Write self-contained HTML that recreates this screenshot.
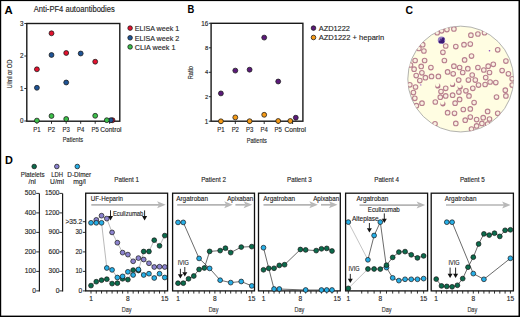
<!DOCTYPE html>
<html><head><meta charset="utf-8"><style>
html,body{margin:0;padding:0;background:#fff;}
svg{display:block;font-family:"Liberation Sans", sans-serif;}
</style></head><body>
<svg width="520" height="317" viewBox="0 0 520 317">
<rect width="520" height="317" fill="#fff"/>
<rect x="0" y="0" width="520" height="1.1" fill="#000"/><rect x="0" y="0" width="1.2" height="317" fill="#000"/><rect x="518.5" y="0" width="1.5" height="317" fill="#000"/><rect x="0" y="315.6" width="520" height="1.4" fill="#000"/>
<text x="4.60" y="13.60" font-size="11.6" text-anchor="start" fill="#000" stroke="#000" stroke-width="0.0" font-weight="bold" textLength="8.20" lengthAdjust="spacingAndGlyphs">A</text>
<text x="33.80" y="12.10" font-size="8.3" text-anchor="start" fill="#222" stroke="#222" stroke-width="0.14" textLength="81.00" lengthAdjust="spacingAndGlyphs">Anti-PF4 autoantibodies</text>
<rect x="26.8" y="23.5" width="93.0" height="97.7" fill="none" stroke="#1a1a1a" stroke-width="1.4"/>
<line x1="24.30" y1="23.50" x2="26.80" y2="23.50" stroke="#1a1a1a" stroke-width="0.9"/>
<text x="23.60" y="25.70" font-size="6.3" text-anchor="end" fill="#262626" stroke="#262626" stroke-width="0.14">3</text>
<line x1="24.30" y1="56.00" x2="26.80" y2="56.00" stroke="#1a1a1a" stroke-width="0.9"/>
<text x="23.60" y="58.20" font-size="6.3" text-anchor="end" fill="#262626" stroke="#262626" stroke-width="0.14">2</text>
<line x1="24.30" y1="88.50" x2="26.80" y2="88.50" stroke="#1a1a1a" stroke-width="0.9"/>
<text x="23.60" y="90.70" font-size="6.3" text-anchor="end" fill="#262626" stroke="#262626" stroke-width="0.14">1</text>
<line x1="24.30" y1="121.00" x2="26.80" y2="121.00" stroke="#1a1a1a" stroke-width="0.9"/>
<text x="23.60" y="123.20" font-size="6.3" text-anchor="end" fill="#262626" stroke="#262626" stroke-width="0.14">0</text>
<line x1="36.90" y1="121.00" x2="36.90" y2="123.80" stroke="#1a1a1a" stroke-width="0.9"/>
<text x="36.90" y="131.70" font-size="6.8" text-anchor="middle" fill="#262626" stroke="#262626" stroke-width="0.14" textLength="7.30" lengthAdjust="spacingAndGlyphs">P1</text>
<line x1="51.50" y1="121.00" x2="51.50" y2="123.80" stroke="#1a1a1a" stroke-width="0.9"/>
<text x="51.50" y="131.70" font-size="6.8" text-anchor="middle" fill="#262626" stroke="#262626" stroke-width="0.14" textLength="7.30" lengthAdjust="spacingAndGlyphs">P2</text>
<line x1="66.20" y1="121.00" x2="66.20" y2="123.80" stroke="#1a1a1a" stroke-width="0.9"/>
<text x="66.20" y="131.70" font-size="6.8" text-anchor="middle" fill="#262626" stroke="#262626" stroke-width="0.14" textLength="7.30" lengthAdjust="spacingAndGlyphs">P3</text>
<line x1="80.70" y1="121.00" x2="80.70" y2="123.80" stroke="#1a1a1a" stroke-width="0.9"/>
<text x="80.70" y="131.70" font-size="6.8" text-anchor="middle" fill="#262626" stroke="#262626" stroke-width="0.14" textLength="7.30" lengthAdjust="spacingAndGlyphs">P4</text>
<line x1="95.20" y1="121.00" x2="95.20" y2="123.80" stroke="#1a1a1a" stroke-width="0.9"/>
<text x="95.20" y="131.70" font-size="6.8" text-anchor="middle" fill="#262626" stroke="#262626" stroke-width="0.14" textLength="7.30" lengthAdjust="spacingAndGlyphs">P5</text>
<line x1="109.60" y1="121.00" x2="109.60" y2="123.80" stroke="#1a1a1a" stroke-width="0.9"/>
<text x="110.90" y="131.70" font-size="6.8" text-anchor="middle" fill="#262626" stroke="#262626" stroke-width="0.14" textLength="21.40" lengthAdjust="spacingAndGlyphs">Control</text>
<text x="72.90" y="141.90" font-size="7.0" text-anchor="middle" fill="#262626" stroke="#262626" stroke-width="0.14" textLength="20.20" lengthAdjust="spacingAndGlyphs">Patients</text>
<text x="12.00" y="74.00" font-size="7.0" text-anchor="middle" fill="#262626" stroke="#262626" stroke-width="0.14" textLength="29.00" lengthAdjust="spacingAndGlyphs" transform="rotate(-90 12.00 74.00)">U/ml or OD</text>
<circle cx="36.90" cy="69.30" r="2.45" fill="#e3122f" stroke="#151515" stroke-width="0.75"/>
<circle cx="51.50" cy="33.30" r="2.45" fill="#e3122f" stroke="#151515" stroke-width="0.75"/>
<circle cx="66.20" cy="53.00" r="2.45" fill="#e3122f" stroke="#151515" stroke-width="0.75"/>
<circle cx="95.20" cy="61.70" r="2.45" fill="#e3122f" stroke="#151515" stroke-width="0.75"/>
<circle cx="112.50" cy="120.20" r="2.45" fill="#e3122f" stroke="#151515" stroke-width="0.75"/>
<circle cx="36.90" cy="87.80" r="2.45" fill="#1f5496" stroke="#151515" stroke-width="0.75"/>
<circle cx="51.50" cy="55.00" r="2.45" fill="#1f5496" stroke="#151515" stroke-width="0.75"/>
<circle cx="66.20" cy="82.50" r="2.45" fill="#1f5496" stroke="#151515" stroke-width="0.75"/>
<circle cx="80.70" cy="53.50" r="2.45" fill="#1f5496" stroke="#151515" stroke-width="0.75"/>
<circle cx="110.90" cy="120.20" r="2.45" fill="#1f5496" stroke="#151515" stroke-width="0.75"/>
<circle cx="36.90" cy="120.60" r="2.45" fill="#3cbf4a" stroke="#151515" stroke-width="0.75"/>
<circle cx="51.50" cy="116.00" r="2.45" fill="#3cbf4a" stroke="#151515" stroke-width="0.75"/>
<circle cx="66.20" cy="119.00" r="2.45" fill="#3cbf4a" stroke="#151515" stroke-width="0.75"/>
<circle cx="95.20" cy="115.80" r="2.45" fill="#3cbf4a" stroke="#151515" stroke-width="0.75"/>
<circle cx="106.80" cy="120.20" r="2.45" fill="#3cbf4a" stroke="#151515" stroke-width="0.75"/>
<circle cx="130.10" cy="28.10" r="2.3" fill="#e3122f" stroke="#151515" stroke-width="0.75"/>
<text x="134.80" y="30.90" font-size="8.1" text-anchor="start" fill="#262626" stroke="#262626" stroke-width="0.14" textLength="44.40" lengthAdjust="spacingAndGlyphs">ELISA week 1</text>
<circle cx="130.10" cy="37.80" r="2.3" fill="#1f5496" stroke="#151515" stroke-width="0.75"/>
<text x="134.80" y="40.60" font-size="8.1" text-anchor="start" fill="#262626" stroke="#262626" stroke-width="0.14" textLength="44.40" lengthAdjust="spacingAndGlyphs">ELISA week 2</text>
<circle cx="130.10" cy="46.90" r="2.3" fill="#3cbf4a" stroke="#151515" stroke-width="0.75"/>
<text x="134.80" y="49.70" font-size="8.1" text-anchor="start" fill="#262626" stroke="#262626" stroke-width="0.14" textLength="40.70" lengthAdjust="spacingAndGlyphs">CLIA week 1</text>
<text x="187.60" y="12.90" font-size="10.5" text-anchor="start" fill="#000" stroke="#000" stroke-width="0.0" font-weight="bold" textLength="6.80" lengthAdjust="spacingAndGlyphs">B</text>
<rect x="211.1" y="23.3" width="91.8" height="97.9" fill="none" stroke="#1a1a1a" stroke-width="1.4"/>
<line x1="208.80" y1="23.30" x2="211.10" y2="23.30" stroke="#1a1a1a" stroke-width="0.9"/>
<line x1="208.80" y1="47.80" x2="211.10" y2="47.80" stroke="#1a1a1a" stroke-width="0.9"/>
<line x1="208.80" y1="72.30" x2="211.10" y2="72.30" stroke="#1a1a1a" stroke-width="0.9"/>
<line x1="208.80" y1="96.70" x2="211.10" y2="96.70" stroke="#1a1a1a" stroke-width="0.9"/>
<line x1="208.80" y1="121.20" x2="211.10" y2="121.20" stroke="#1a1a1a" stroke-width="0.9"/>
<text x="208.30" y="25.60" font-size="6.3" text-anchor="end" fill="#262626" stroke="#262626" stroke-width="0.14">16</text>
<text x="208.30" y="123.50" font-size="6.3" text-anchor="end" fill="#262626" stroke="#262626" stroke-width="0.14">1</text>
<text x="208.20" y="49.80" font-size="5.8" text-anchor="end" fill="#262626" stroke="#262626" stroke-width="0.14">8</text>
<text x="208.20" y="74.30" font-size="5.8" text-anchor="end" fill="#262626" stroke="#262626" stroke-width="0.14">4</text>
<text x="208.20" y="98.70" font-size="5.8" text-anchor="end" fill="#262626" stroke="#262626" stroke-width="0.14">2</text>
<line x1="220.90" y1="121.20" x2="220.90" y2="124.00" stroke="#1a1a1a" stroke-width="0.9"/>
<text x="220.90" y="131.80" font-size="6.8" text-anchor="middle" fill="#262626" stroke="#262626" stroke-width="0.14" textLength="7.30" lengthAdjust="spacingAndGlyphs">P1</text>
<line x1="235.30" y1="121.20" x2="235.30" y2="124.00" stroke="#1a1a1a" stroke-width="0.9"/>
<text x="235.30" y="131.80" font-size="6.8" text-anchor="middle" fill="#262626" stroke="#262626" stroke-width="0.14" textLength="7.30" lengthAdjust="spacingAndGlyphs">P2</text>
<line x1="249.60" y1="121.20" x2="249.60" y2="124.00" stroke="#1a1a1a" stroke-width="0.9"/>
<text x="249.60" y="131.80" font-size="6.8" text-anchor="middle" fill="#262626" stroke="#262626" stroke-width="0.14" textLength="7.30" lengthAdjust="spacingAndGlyphs">P3</text>
<line x1="264.20" y1="121.20" x2="264.20" y2="124.00" stroke="#1a1a1a" stroke-width="0.9"/>
<text x="264.20" y="131.80" font-size="6.8" text-anchor="middle" fill="#262626" stroke="#262626" stroke-width="0.14" textLength="7.30" lengthAdjust="spacingAndGlyphs">P4</text>
<line x1="278.20" y1="121.20" x2="278.20" y2="124.00" stroke="#1a1a1a" stroke-width="0.9"/>
<text x="278.20" y="131.80" font-size="6.8" text-anchor="middle" fill="#262626" stroke="#262626" stroke-width="0.14" textLength="7.30" lengthAdjust="spacingAndGlyphs">P5</text>
<line x1="292.60" y1="121.20" x2="292.60" y2="124.00" stroke="#1a1a1a" stroke-width="0.9"/>
<text x="295.20" y="131.80" font-size="6.8" text-anchor="middle" fill="#262626" stroke="#262626" stroke-width="0.14" textLength="21.60" lengthAdjust="spacingAndGlyphs">Control</text>
<text x="256.80" y="143.00" font-size="7.0" text-anchor="middle" fill="#262626" stroke="#262626" stroke-width="0.14" textLength="20.20" lengthAdjust="spacingAndGlyphs">Patients</text>
<text x="192.80" y="72.70" font-size="7.0" text-anchor="middle" fill="#262626" stroke="#262626" stroke-width="0.14" textLength="13.30" lengthAdjust="spacingAndGlyphs" transform="rotate(-90 192.80 72.70)">Ratio</text>
<circle cx="220.90" cy="121.30" r="2.45" fill="#f59a16" stroke="#151515" stroke-width="0.75"/>
<circle cx="235.30" cy="117.40" r="2.45" fill="#f59a16" stroke="#151515" stroke-width="0.75"/>
<circle cx="249.60" cy="121.20" r="2.45" fill="#f59a16" stroke="#151515" stroke-width="0.75"/>
<circle cx="264.20" cy="114.80" r="2.45" fill="#f59a16" stroke="#151515" stroke-width="0.75"/>
<circle cx="278.20" cy="121.00" r="2.45" fill="#f59a16" stroke="#151515" stroke-width="0.75"/>
<circle cx="290.30" cy="121.00" r="2.45" fill="#f59a16" stroke="#151515" stroke-width="0.75"/>
<circle cx="220.90" cy="93.40" r="2.45" fill="#5b1a7a" stroke="#151515" stroke-width="0.75"/>
<circle cx="235.30" cy="70.60" r="2.45" fill="#5b1a7a" stroke="#151515" stroke-width="0.75"/>
<circle cx="249.60" cy="69.70" r="2.45" fill="#5b1a7a" stroke="#151515" stroke-width="0.75"/>
<circle cx="264.20" cy="37.60" r="2.45" fill="#5b1a7a" stroke="#151515" stroke-width="0.75"/>
<circle cx="278.20" cy="81.50" r="2.45" fill="#5b1a7a" stroke="#151515" stroke-width="0.75"/>
<circle cx="295.80" cy="117.70" r="2.45" fill="#5b1a7a" stroke="#151515" stroke-width="0.75"/>
<circle cx="313.50" cy="28.10" r="2.3" fill="#5b1a7a" stroke="#151515" stroke-width="0.75"/>
<text x="318.70" y="30.90" font-size="8.1" text-anchor="start" fill="#262626" stroke="#262626" stroke-width="0.14" textLength="31.30" lengthAdjust="spacingAndGlyphs">AZD1222</text>
<circle cx="313.50" cy="37.50" r="2.3" fill="#f59a16" stroke="#151515" stroke-width="0.75"/>
<text x="318.70" y="40.30" font-size="8.1" text-anchor="start" fill="#262626" stroke="#262626" stroke-width="0.14" textLength="65.50" lengthAdjust="spacingAndGlyphs">AZD1222 + heparin</text>
<text x="405.60" y="14.00" font-size="11" text-anchor="start" fill="#000" stroke="#000" stroke-width="0.0" font-weight="bold" textLength="7.50" lengthAdjust="spacingAndGlyphs">C</text>
<defs><clipPath id="cc"><circle cx="460.70" cy="79.05" r="52.90"/></clipPath>
<filter id="bl" x="-10%" y="-10%" width="120%" height="120%"><feGaussianBlur stdDeviation="0.3"/></filter></defs>
<circle cx="460.70" cy="79.05" r="52.90" fill="#fffde2" stroke="#a0a0a0" stroke-width="0.8"/>
<g clip-path="url(#cc)"><g filter="url(#bl)" fill="#faf0e0" stroke="#b8808e" stroke-width="1.1">
<circle cx="437.2" cy="32.7" r="2.3"/>
<circle cx="441.6" cy="30.8" r="2.3"/>
<circle cx="422.7" cy="44.7" r="2.3"/>
<circle cx="418.9" cy="48.5" r="2.3"/>
<circle cx="423.9" cy="51.0" r="2.3"/>
<circle cx="442.9" cy="52.3" r="2.3"/>
<circle cx="415.1" cy="60.5" r="2.3"/>
<circle cx="424.6" cy="60.5" r="2.3"/>
<circle cx="446.9" cy="29.6" r="2.3"/>
<circle cx="453.9" cy="28.9" r="2.3"/>
<circle cx="470.9" cy="35.2" r="2.3"/>
<circle cx="477.9" cy="34.0" r="2.3"/>
<circle cx="445.7" cy="46.0" r="2.3"/>
<circle cx="455.8" cy="46.6" r="2.3"/>
<circle cx="464.0" cy="44.7" r="2.3"/>
<circle cx="470.3" cy="44.1" r="2.3"/>
<circle cx="471.5" cy="56.1" r="2.3"/>
<circle cx="444.4" cy="60.5" r="2.3"/>
<circle cx="464.6" cy="59.9" r="2.3"/>
<circle cx="484.5" cy="32.7" r="2.3"/>
<circle cx="497.7" cy="49.8" r="2.3"/>
<circle cx="505.9" cy="61.1" r="2.3"/>
<circle cx="410.5" cy="65.0" r="2.3"/>
<circle cx="421.2" cy="66.4" r="2.3"/>
<circle cx="414.1" cy="69.2" r="2.3"/>
<circle cx="421.9" cy="72.8" r="2.3"/>
<circle cx="416.2" cy="75.6" r="2.3"/>
<circle cx="425.4" cy="77.7" r="2.3"/>
<circle cx="419.8" cy="80.6" r="2.3"/>
<circle cx="409.8" cy="84.8" r="2.3"/>
<circle cx="415.5" cy="87.0" r="2.3"/>
<circle cx="413.4" cy="92.6" r="2.3"/>
<circle cx="414.8" cy="98.3" r="2.3"/>
<circle cx="430.9" cy="67.6" r="2.3"/>
<circle cx="431.5" cy="76.4" r="2.3"/>
<circle cx="438.4" cy="76.4" r="2.3"/>
<circle cx="441.0" cy="91.5" r="2.3"/>
<circle cx="440.3" cy="97.2" r="2.3"/>
<circle cx="453.9" cy="66.2" r="2.3"/>
<circle cx="459.6" cy="67.5" r="2.3"/>
<circle cx="467.8" cy="68.7" r="2.3"/>
<circle cx="477.9" cy="67.5" r="2.3"/>
<circle cx="447.6" cy="71.9" r="2.3"/>
<circle cx="453.2" cy="73.8" r="2.3"/>
<circle cx="462.7" cy="72.5" r="2.3"/>
<circle cx="472.2" cy="75.0" r="2.3"/>
<circle cx="458.7" cy="80.1" r="2.3"/>
<circle cx="468.4" cy="80.1" r="2.3"/>
<circle cx="475.3" cy="80.1" r="2.3"/>
<circle cx="478.5" cy="85.1" r="2.3"/>
<circle cx="445.7" cy="88.3" r="2.3"/>
<circle cx="465.9" cy="90.8" r="2.3"/>
<circle cx="472.8" cy="88.3" r="2.3"/>
<circle cx="458.9" cy="92.1" r="2.3"/>
<circle cx="445.7" cy="95.9" r="2.3"/>
<circle cx="452.6" cy="95.2" r="2.3"/>
<circle cx="469.0" cy="95.9" r="2.3"/>
<circle cx="493.3" cy="64.3" r="2.3"/>
<circle cx="488.2" cy="66.2" r="2.3"/>
<circle cx="483.8" cy="70.0" r="2.3"/>
<circle cx="489.5" cy="72.5" r="2.3"/>
<circle cx="502.1" cy="70.6" r="2.3"/>
<circle cx="508.4" cy="73.8" r="2.3"/>
<circle cx="485.7" cy="77.6" r="2.3"/>
<circle cx="490.1" cy="82.0" r="2.3"/>
<circle cx="495.8" cy="82.6" r="2.3"/>
<circle cx="485.1" cy="84.5" r="2.3"/>
<circle cx="512.2" cy="78.8" r="2.3"/>
<circle cx="512.2" cy="85.1" r="2.3"/>
<circle cx="505.3" cy="90.2" r="2.3"/>
<circle cx="505.9" cy="95.9" r="2.3"/>
<circle cx="496.5" cy="97.1" r="2.3"/>
<circle cx="416.4" cy="105.7" r="2.3"/>
<circle cx="422.0" cy="103.2" r="2.3"/>
<circle cx="435.3" cy="102.0" r="2.3"/>
<circle cx="435.0" cy="123.8" r="2.3"/>
<circle cx="459.6" cy="99.4" r="2.3"/>
<circle cx="455.1" cy="103.2" r="2.3"/>
<circle cx="474.1" cy="102.6" r="2.3"/>
<circle cx="463.3" cy="109.5" r="2.3"/>
<circle cx="470.3" cy="108.9" r="2.3"/>
<circle cx="447.6" cy="112.7" r="2.3"/>
<circle cx="454.5" cy="113.3" r="2.3"/>
<circle cx="465.2" cy="120.2" r="2.3"/>
<circle cx="470.3" cy="117.1" r="2.3"/>
<circle cx="476.6" cy="119.6" r="2.3"/>
<circle cx="455.8" cy="123.4" r="2.3"/>
<circle cx="476.6" cy="125.9" r="2.3"/>
<circle cx="471.5" cy="129.1" r="2.3"/>
<circle cx="487.6" cy="111.4" r="2.3"/>
<circle cx="497.7" cy="113.3" r="2.3"/>
<circle cx="483.2" cy="117.7" r="2.3"/>
<circle cx="489.5" cy="119.0" r="2.3"/>
<circle cx="481.9" cy="123.4" r="2.3"/>
<circle cx="487.6" cy="124.0" r="2.3"/>
</g><g filter="url(#bl)">
<circle cx="437.8" cy="85.9" r="2.6" fill="#b47a8b"/><circle cx="437.3" cy="84.8" r="2.1" fill="#fffde2"/>
<circle cx="452.6" cy="84.5" r="2.6" fill="#b47a8b"/><circle cx="452.1" cy="83.4" r="2.1" fill="#fffde2"/>
<circle cx="460.2" cy="87.0" r="2.6" fill="#b47a8b"/><circle cx="459.7" cy="85.9" r="2.1" fill="#fffde2"/>
<circle cx="442.9" cy="103.8" r="2.6" fill="#b47a8b"/><circle cx="442.4" cy="102.7" r="2.1" fill="#fffde2"/>
</g></g>
<g filter="url(#bl)"><circle cx="441.5" cy="40.2" r="3.7" fill="#9a82c4"/><circle cx="442.5" cy="41.5" r="1.9" fill="#3a1a74"/><circle cx="440.2" cy="41.8" r="1.5" fill="#3a1a74"/><circle cx="443.2" cy="39.0" r="1.4" fill="#3a1a74"/><circle cx="441.0" cy="39.5" r="1.0" fill="#4a2a84"/></g>
<circle cx="489.5" cy="50.8" r="0.8" fill="#8a4ac0"/><circle cx="420.8" cy="84.9" r="0.7" fill="#9a5ac8"/>
<text x="4.90" y="163.80" font-size="10.8" text-anchor="start" fill="#000" stroke="#000" stroke-width="0.0" font-weight="bold" textLength="7.90" lengthAdjust="spacingAndGlyphs">D</text>
<circle cx="34.20" cy="166.50" r="2.3" fill="#0b6b4c" stroke="#151515" stroke-width="0.75"/>
<circle cx="56.80" cy="166.50" r="2.3" fill="#8b83cf" stroke="#151515" stroke-width="0.75"/>
<circle cx="77.30" cy="166.50" r="2.3" fill="#27aee6" stroke="#151515" stroke-width="0.75"/>
<text x="32.65" y="176.60" font-size="7.0" text-anchor="middle" fill="#262626" stroke="#262626" stroke-width="0.14" textLength="23.70" lengthAdjust="spacingAndGlyphs">Platelets</text>
<text x="32.15" y="183.80" font-size="7.0" text-anchor="middle" fill="#262626" stroke="#262626" stroke-width="0.14" textLength="7.30" lengthAdjust="spacingAndGlyphs">/nl</text>
<text x="57.10" y="176.60" font-size="7.0" text-anchor="middle" fill="#262626" stroke="#262626" stroke-width="0.14" textLength="11.80" lengthAdjust="spacingAndGlyphs">LDH</text>
<text x="57.00" y="183.80" font-size="7.0" text-anchor="middle" fill="#262626" stroke="#262626" stroke-width="0.14" textLength="13.80" lengthAdjust="spacingAndGlyphs">U/ml</text>
<text x="79.25" y="176.60" font-size="7.0" text-anchor="middle" fill="#262626" stroke="#262626" stroke-width="0.14" textLength="23.90" lengthAdjust="spacingAndGlyphs">D-Dimer</text>
<text x="79.50" y="183.80" font-size="7.0" text-anchor="middle" fill="#262626" stroke="#262626" stroke-width="0.14" textLength="12.60" lengthAdjust="spacingAndGlyphs">mg/l</text>
<line x1="39.40" y1="193.40" x2="39.40" y2="291.50" stroke="#1a1a1a" stroke-width="1.2"/>
<line x1="36.20" y1="290.90" x2="39.40" y2="290.90" stroke="#1a1a1a" stroke-width="0.9"/>
<text x="35.90" y="292.70" font-size="6.7" text-anchor="end" fill="#262626" stroke="#262626" stroke-width="0.14">0</text>
<line x1="36.20" y1="271.40" x2="39.40" y2="271.40" stroke="#1a1a1a" stroke-width="0.9"/>
<text x="35.90" y="273.20" font-size="6.7" text-anchor="end" fill="#262626" stroke="#262626" stroke-width="0.14" textLength="11.10" lengthAdjust="spacingAndGlyphs">100</text>
<line x1="36.20" y1="251.90" x2="39.40" y2="251.90" stroke="#1a1a1a" stroke-width="0.9"/>
<text x="35.90" y="253.70" font-size="6.7" text-anchor="end" fill="#262626" stroke="#262626" stroke-width="0.14" textLength="11.10" lengthAdjust="spacingAndGlyphs">200</text>
<line x1="36.20" y1="232.40" x2="39.40" y2="232.40" stroke="#1a1a1a" stroke-width="0.9"/>
<text x="35.90" y="234.20" font-size="6.7" text-anchor="end" fill="#262626" stroke="#262626" stroke-width="0.14" textLength="11.10" lengthAdjust="spacingAndGlyphs">300</text>
<line x1="36.20" y1="212.90" x2="39.40" y2="212.90" stroke="#1a1a1a" stroke-width="0.9"/>
<text x="35.90" y="214.70" font-size="6.7" text-anchor="end" fill="#262626" stroke="#262626" stroke-width="0.14" textLength="11.10" lengthAdjust="spacingAndGlyphs">400</text>
<line x1="36.20" y1="193.40" x2="39.40" y2="193.40" stroke="#1a1a1a" stroke-width="0.9"/>
<text x="35.90" y="195.20" font-size="6.7" text-anchor="end" fill="#262626" stroke="#262626" stroke-width="0.14" textLength="11.10" lengthAdjust="spacingAndGlyphs">500</text>
<line x1="62.60" y1="193.40" x2="62.60" y2="291.50" stroke="#1a1a1a" stroke-width="1.2"/>
<line x1="59.40" y1="290.90" x2="62.60" y2="290.90" stroke="#1a1a1a" stroke-width="0.9"/>
<text x="59.40" y="292.70" font-size="6.7" text-anchor="end" fill="#262626" stroke="#262626" stroke-width="0.14">0</text>
<line x1="59.40" y1="271.40" x2="62.60" y2="271.40" stroke="#1a1a1a" stroke-width="0.9"/>
<text x="59.40" y="273.20" font-size="6.7" text-anchor="end" fill="#262626" stroke="#262626" stroke-width="0.14" textLength="10.80" lengthAdjust="spacingAndGlyphs">300</text>
<line x1="59.40" y1="251.90" x2="62.60" y2="251.90" stroke="#1a1a1a" stroke-width="0.9"/>
<text x="59.40" y="253.70" font-size="6.7" text-anchor="end" fill="#262626" stroke="#262626" stroke-width="0.14" textLength="10.80" lengthAdjust="spacingAndGlyphs">600</text>
<line x1="59.40" y1="232.40" x2="62.60" y2="232.40" stroke="#1a1a1a" stroke-width="0.9"/>
<text x="59.40" y="234.20" font-size="6.7" text-anchor="end" fill="#262626" stroke="#262626" stroke-width="0.14" textLength="10.80" lengthAdjust="spacingAndGlyphs">900</text>
<line x1="59.40" y1="212.90" x2="62.60" y2="212.90" stroke="#1a1a1a" stroke-width="0.9"/>
<text x="59.40" y="214.70" font-size="6.7" text-anchor="end" fill="#262626" stroke="#262626" stroke-width="0.14" textLength="14.40" lengthAdjust="spacingAndGlyphs">1200</text>
<line x1="59.40" y1="193.40" x2="62.60" y2="193.40" stroke="#1a1a1a" stroke-width="0.9"/>
<text x="59.40" y="195.20" font-size="6.7" text-anchor="end" fill="#262626" stroke="#262626" stroke-width="0.14" textLength="14.40" lengthAdjust="spacingAndGlyphs">1500</text>
<line x1="82.80" y1="290.90" x2="85.70" y2="290.90" stroke="#1a1a1a" stroke-width="0.9"/>
<text x="82.20" y="292.70" font-size="6.7" text-anchor="end" fill="#262626" stroke="#262626" stroke-width="0.14">0</text>
<line x1="82.80" y1="271.40" x2="85.70" y2="271.40" stroke="#1a1a1a" stroke-width="0.9"/>
<text x="82.20" y="273.20" font-size="6.7" text-anchor="end" fill="#262626" stroke="#262626" stroke-width="0.14" textLength="6.80" lengthAdjust="spacingAndGlyphs">10</text>
<line x1="82.80" y1="251.90" x2="85.70" y2="251.90" stroke="#1a1a1a" stroke-width="0.9"/>
<text x="82.20" y="253.70" font-size="6.7" text-anchor="end" fill="#262626" stroke="#262626" stroke-width="0.14" textLength="6.80" lengthAdjust="spacingAndGlyphs">20</text>
<line x1="82.80" y1="232.40" x2="85.70" y2="232.40" stroke="#1a1a1a" stroke-width="0.9"/>
<text x="82.20" y="234.20" font-size="6.7" text-anchor="end" fill="#262626" stroke="#262626" stroke-width="0.14" textLength="6.80" lengthAdjust="spacingAndGlyphs">30</text>
<line x1="82.80" y1="221.70" x2="85.70" y2="221.70" stroke="#1a1a1a" stroke-width="0.9"/>
<text x="82.20" y="223.70" font-size="6.7" text-anchor="end" fill="#262626" stroke="#262626" stroke-width="0.14" textLength="16.80" lengthAdjust="spacingAndGlyphs">&gt;35.2</text>
<rect x="85.7" y="193.2" width="81.90" height="97.70" fill="none" stroke="#111" stroke-width="1.3"/>
<text x="126.65" y="181.80" font-size="7.3" text-anchor="middle" fill="#262626" stroke="#262626" stroke-width="0.14" textLength="24.80" lengthAdjust="spacingAndGlyphs">Patient 1</text>
<line x1="91.00" y1="290.90" x2="91.00" y2="293.60" stroke="#1a1a1a" stroke-width="0.9"/>
<line x1="96.27" y1="290.90" x2="96.27" y2="293.60" stroke="#1a1a1a" stroke-width="0.9"/>
<line x1="101.54" y1="290.90" x2="101.54" y2="293.60" stroke="#1a1a1a" stroke-width="0.9"/>
<line x1="106.81" y1="290.90" x2="106.81" y2="293.60" stroke="#1a1a1a" stroke-width="0.9"/>
<line x1="112.08" y1="290.90" x2="112.08" y2="293.60" stroke="#1a1a1a" stroke-width="0.9"/>
<line x1="117.35" y1="290.90" x2="117.35" y2="293.60" stroke="#1a1a1a" stroke-width="0.9"/>
<line x1="122.62" y1="290.90" x2="122.62" y2="293.60" stroke="#1a1a1a" stroke-width="0.9"/>
<line x1="127.89" y1="290.90" x2="127.89" y2="293.60" stroke="#1a1a1a" stroke-width="0.9"/>
<line x1="133.16" y1="290.90" x2="133.16" y2="293.60" stroke="#1a1a1a" stroke-width="0.9"/>
<line x1="138.43" y1="290.90" x2="138.43" y2="293.60" stroke="#1a1a1a" stroke-width="0.9"/>
<line x1="143.70" y1="290.90" x2="143.70" y2="293.60" stroke="#1a1a1a" stroke-width="0.9"/>
<line x1="148.97" y1="290.90" x2="148.97" y2="293.60" stroke="#1a1a1a" stroke-width="0.9"/>
<line x1="154.24" y1="290.90" x2="154.24" y2="293.60" stroke="#1a1a1a" stroke-width="0.9"/>
<line x1="159.51" y1="290.90" x2="159.51" y2="293.60" stroke="#1a1a1a" stroke-width="0.9"/>
<line x1="164.78" y1="290.90" x2="164.78" y2="293.60" stroke="#1a1a1a" stroke-width="0.9"/>
<text x="91.00" y="300.80" font-size="6.6" text-anchor="middle" fill="#262626" stroke="#262626" stroke-width="0.14">1</text>
<text x="127.89" y="300.80" font-size="6.6" text-anchor="middle" fill="#262626" stroke="#262626" stroke-width="0.14">8</text>
<text x="164.78" y="300.80" font-size="6.6" text-anchor="middle" fill="#262626" stroke="#262626" stroke-width="0.14">15</text>
<text x="126.65" y="311.60" font-size="7.2" text-anchor="middle" fill="#333" stroke="#333" stroke-width="0.14" textLength="9.80" lengthAdjust="spacingAndGlyphs">Day</text>
<rect x="172.6" y="193.2" width="81.90" height="97.70" fill="none" stroke="#111" stroke-width="1.3"/>
<text x="213.55" y="181.80" font-size="7.3" text-anchor="middle" fill="#262626" stroke="#262626" stroke-width="0.14" textLength="24.80" lengthAdjust="spacingAndGlyphs">Patient 2</text>
<line x1="178.00" y1="290.90" x2="178.00" y2="293.60" stroke="#1a1a1a" stroke-width="0.9"/>
<line x1="183.27" y1="290.90" x2="183.27" y2="293.60" stroke="#1a1a1a" stroke-width="0.9"/>
<line x1="188.54" y1="290.90" x2="188.54" y2="293.60" stroke="#1a1a1a" stroke-width="0.9"/>
<line x1="193.81" y1="290.90" x2="193.81" y2="293.60" stroke="#1a1a1a" stroke-width="0.9"/>
<line x1="199.08" y1="290.90" x2="199.08" y2="293.60" stroke="#1a1a1a" stroke-width="0.9"/>
<line x1="204.35" y1="290.90" x2="204.35" y2="293.60" stroke="#1a1a1a" stroke-width="0.9"/>
<line x1="209.62" y1="290.90" x2="209.62" y2="293.60" stroke="#1a1a1a" stroke-width="0.9"/>
<line x1="214.89" y1="290.90" x2="214.89" y2="293.60" stroke="#1a1a1a" stroke-width="0.9"/>
<line x1="220.16" y1="290.90" x2="220.16" y2="293.60" stroke="#1a1a1a" stroke-width="0.9"/>
<line x1="225.43" y1="290.90" x2="225.43" y2="293.60" stroke="#1a1a1a" stroke-width="0.9"/>
<line x1="230.70" y1="290.90" x2="230.70" y2="293.60" stroke="#1a1a1a" stroke-width="0.9"/>
<line x1="235.97" y1="290.90" x2="235.97" y2="293.60" stroke="#1a1a1a" stroke-width="0.9"/>
<line x1="241.24" y1="290.90" x2="241.24" y2="293.60" stroke="#1a1a1a" stroke-width="0.9"/>
<line x1="246.51" y1="290.90" x2="246.51" y2="293.60" stroke="#1a1a1a" stroke-width="0.9"/>
<line x1="251.78" y1="290.90" x2="251.78" y2="293.60" stroke="#1a1a1a" stroke-width="0.9"/>
<text x="178.00" y="300.80" font-size="6.6" text-anchor="middle" fill="#262626" stroke="#262626" stroke-width="0.14">1</text>
<text x="214.89" y="300.80" font-size="6.6" text-anchor="middle" fill="#262626" stroke="#262626" stroke-width="0.14">8</text>
<text x="251.78" y="300.80" font-size="6.6" text-anchor="middle" fill="#262626" stroke="#262626" stroke-width="0.14">15</text>
<text x="213.55" y="311.60" font-size="7.2" text-anchor="middle" fill="#333" stroke="#333" stroke-width="0.14" textLength="9.80" lengthAdjust="spacingAndGlyphs">Day</text>
<rect x="258.5" y="193.2" width="81.80" height="97.70" fill="none" stroke="#111" stroke-width="1.3"/>
<text x="299.40" y="181.80" font-size="7.3" text-anchor="middle" fill="#262626" stroke="#262626" stroke-width="0.14" textLength="24.80" lengthAdjust="spacingAndGlyphs">Patient 3</text>
<line x1="263.50" y1="290.90" x2="263.50" y2="293.60" stroke="#1a1a1a" stroke-width="0.9"/>
<line x1="268.77" y1="290.90" x2="268.77" y2="293.60" stroke="#1a1a1a" stroke-width="0.9"/>
<line x1="274.04" y1="290.90" x2="274.04" y2="293.60" stroke="#1a1a1a" stroke-width="0.9"/>
<line x1="279.31" y1="290.90" x2="279.31" y2="293.60" stroke="#1a1a1a" stroke-width="0.9"/>
<line x1="284.58" y1="290.90" x2="284.58" y2="293.60" stroke="#1a1a1a" stroke-width="0.9"/>
<line x1="289.85" y1="290.90" x2="289.85" y2="293.60" stroke="#1a1a1a" stroke-width="0.9"/>
<line x1="295.12" y1="290.90" x2="295.12" y2="293.60" stroke="#1a1a1a" stroke-width="0.9"/>
<line x1="300.39" y1="290.90" x2="300.39" y2="293.60" stroke="#1a1a1a" stroke-width="0.9"/>
<line x1="305.66" y1="290.90" x2="305.66" y2="293.60" stroke="#1a1a1a" stroke-width="0.9"/>
<line x1="310.93" y1="290.90" x2="310.93" y2="293.60" stroke="#1a1a1a" stroke-width="0.9"/>
<line x1="316.20" y1="290.90" x2="316.20" y2="293.60" stroke="#1a1a1a" stroke-width="0.9"/>
<line x1="321.47" y1="290.90" x2="321.47" y2="293.60" stroke="#1a1a1a" stroke-width="0.9"/>
<line x1="326.74" y1="290.90" x2="326.74" y2="293.60" stroke="#1a1a1a" stroke-width="0.9"/>
<line x1="332.01" y1="290.90" x2="332.01" y2="293.60" stroke="#1a1a1a" stroke-width="0.9"/>
<line x1="337.28" y1="290.90" x2="337.28" y2="293.60" stroke="#1a1a1a" stroke-width="0.9"/>
<text x="263.50" y="300.80" font-size="6.6" text-anchor="middle" fill="#262626" stroke="#262626" stroke-width="0.14">1</text>
<text x="300.39" y="300.80" font-size="6.6" text-anchor="middle" fill="#262626" stroke="#262626" stroke-width="0.14">8</text>
<text x="337.28" y="300.80" font-size="6.6" text-anchor="middle" fill="#262626" stroke="#262626" stroke-width="0.14">15</text>
<text x="299.40" y="311.60" font-size="7.2" text-anchor="middle" fill="#333" stroke="#333" stroke-width="0.14" textLength="9.80" lengthAdjust="spacingAndGlyphs">Day</text>
<rect x="345.6" y="193.2" width="82.00" height="97.70" fill="none" stroke="#111" stroke-width="1.3"/>
<text x="386.60" y="181.80" font-size="7.3" text-anchor="middle" fill="#262626" stroke="#262626" stroke-width="0.14" textLength="24.80" lengthAdjust="spacingAndGlyphs">Patient 4</text>
<line x1="348.30" y1="290.90" x2="348.30" y2="293.60" stroke="#1a1a1a" stroke-width="0.9"/>
<line x1="361.73" y1="290.90" x2="361.73" y2="293.60" stroke="#1a1a1a" stroke-width="0.9"/>
<line x1="367.92" y1="290.90" x2="367.92" y2="293.60" stroke="#1a1a1a" stroke-width="0.9"/>
<line x1="374.11" y1="290.90" x2="374.11" y2="293.60" stroke="#1a1a1a" stroke-width="0.9"/>
<line x1="380.30" y1="290.90" x2="380.30" y2="293.60" stroke="#1a1a1a" stroke-width="0.9"/>
<line x1="386.49" y1="290.90" x2="386.49" y2="293.60" stroke="#1a1a1a" stroke-width="0.9"/>
<line x1="392.68" y1="290.90" x2="392.68" y2="293.60" stroke="#1a1a1a" stroke-width="0.9"/>
<line x1="398.87" y1="290.90" x2="398.87" y2="293.60" stroke="#1a1a1a" stroke-width="0.9"/>
<line x1="405.06" y1="290.90" x2="405.06" y2="293.60" stroke="#1a1a1a" stroke-width="0.9"/>
<line x1="411.25" y1="290.90" x2="411.25" y2="293.60" stroke="#1a1a1a" stroke-width="0.9"/>
<line x1="417.44" y1="290.90" x2="417.44" y2="293.60" stroke="#1a1a1a" stroke-width="0.9"/>
<line x1="423.63" y1="290.90" x2="423.63" y2="293.60" stroke="#1a1a1a" stroke-width="0.9"/>
<text x="348.30" y="300.80" font-size="6.6" text-anchor="middle" fill="#262626" stroke="#262626" stroke-width="0.14">1</text>
<text x="380.30" y="300.80" font-size="6.6" text-anchor="middle" fill="#262626" stroke="#262626" stroke-width="0.14">8</text>
<text x="423.63" y="300.80" font-size="6.6" text-anchor="middle" fill="#262626" stroke="#262626" stroke-width="0.14">15</text>
<text x="386.60" y="311.60" font-size="7.2" text-anchor="middle" fill="#333" stroke="#333" stroke-width="0.14" textLength="9.80" lengthAdjust="spacingAndGlyphs">Day</text>
<rect x="431.2" y="193.2" width="82.20" height="97.70" fill="none" stroke="#111" stroke-width="1.3"/>
<text x="472.30" y="181.80" font-size="7.3" text-anchor="middle" fill="#262626" stroke="#262626" stroke-width="0.14" textLength="24.80" lengthAdjust="spacingAndGlyphs">Patient 5</text>
<line x1="436.20" y1="290.90" x2="436.20" y2="293.60" stroke="#1a1a1a" stroke-width="0.9"/>
<line x1="441.50" y1="290.90" x2="441.50" y2="293.60" stroke="#1a1a1a" stroke-width="0.9"/>
<line x1="446.80" y1="290.90" x2="446.80" y2="293.60" stroke="#1a1a1a" stroke-width="0.9"/>
<line x1="452.10" y1="290.90" x2="452.10" y2="293.60" stroke="#1a1a1a" stroke-width="0.9"/>
<line x1="457.40" y1="290.90" x2="457.40" y2="293.60" stroke="#1a1a1a" stroke-width="0.9"/>
<line x1="462.70" y1="290.90" x2="462.70" y2="293.60" stroke="#1a1a1a" stroke-width="0.9"/>
<line x1="468.00" y1="290.90" x2="468.00" y2="293.60" stroke="#1a1a1a" stroke-width="0.9"/>
<line x1="473.30" y1="290.90" x2="473.30" y2="293.60" stroke="#1a1a1a" stroke-width="0.9"/>
<line x1="478.60" y1="290.90" x2="478.60" y2="293.60" stroke="#1a1a1a" stroke-width="0.9"/>
<line x1="483.90" y1="290.90" x2="483.90" y2="293.60" stroke="#1a1a1a" stroke-width="0.9"/>
<line x1="489.20" y1="290.90" x2="489.20" y2="293.60" stroke="#1a1a1a" stroke-width="0.9"/>
<line x1="494.50" y1="290.90" x2="494.50" y2="293.60" stroke="#1a1a1a" stroke-width="0.9"/>
<line x1="499.80" y1="290.90" x2="499.80" y2="293.60" stroke="#1a1a1a" stroke-width="0.9"/>
<line x1="505.10" y1="290.90" x2="505.10" y2="293.60" stroke="#1a1a1a" stroke-width="0.9"/>
<line x1="510.40" y1="290.90" x2="510.40" y2="293.60" stroke="#1a1a1a" stroke-width="0.9"/>
<text x="436.20" y="300.80" font-size="6.6" text-anchor="middle" fill="#262626" stroke="#262626" stroke-width="0.14">1</text>
<text x="473.30" y="300.80" font-size="6.6" text-anchor="middle" fill="#262626" stroke="#262626" stroke-width="0.14">8</text>
<text x="510.40" y="300.80" font-size="6.6" text-anchor="middle" fill="#262626" stroke="#262626" stroke-width="0.14">15</text>
<text x="472.30" y="311.60" font-size="7.2" text-anchor="middle" fill="#333" stroke="#333" stroke-width="0.14" textLength="9.80" lengthAdjust="spacingAndGlyphs">Day</text>
<text x="90.80" y="200.80" font-size="7.0" text-anchor="start" fill="#262626" stroke="#262626" stroke-width="0.14" textLength="32.20" lengthAdjust="spacingAndGlyphs">UF-Heparin</text>
<line x1="91.30" y1="204.80" x2="159.20" y2="204.80" stroke="#b4b4b4" stroke-width="1.7"/>
<polygon points="157.10,201.30 165.70,204.80 157.10,208.30 159.10,204.80" fill="#b8b8b8"/>
<text x="176.20" y="200.80" font-size="7.0" text-anchor="start" fill="#262626" stroke="#262626" stroke-width="0.14" textLength="31.80" lengthAdjust="spacingAndGlyphs">Argatroban</text>
<line x1="177.20" y1="204.80" x2="226.30" y2="204.80" stroke="#b4b4b4" stroke-width="1.7"/>
<polygon points="224.20,201.30 232.80,204.80 224.20,208.30 226.20,204.80" fill="#b8b8b8"/>
<text x="227.20" y="200.80" font-size="7.0" text-anchor="start" fill="#262626" stroke="#262626" stroke-width="0.14" textLength="26.00" lengthAdjust="spacingAndGlyphs">Apixaban</text>
<line x1="235.40" y1="204.80" x2="245.70" y2="204.80" stroke="#b4b4b4" stroke-width="1.7"/>
<polygon points="243.60,201.30 252.20,204.80 243.60,208.30 245.60,204.80" fill="#b8b8b8"/>
<text x="263.30" y="200.80" font-size="7.0" text-anchor="start" fill="#262626" stroke="#262626" stroke-width="0.14" textLength="31.80" lengthAdjust="spacingAndGlyphs">Argatroban</text>
<line x1="263.50" y1="204.80" x2="311.40" y2="204.80" stroke="#b4b4b4" stroke-width="1.7"/>
<polygon points="309.30,201.30 317.90,204.80 309.30,208.30 311.30,204.80" fill="#b8b8b8"/>
<text x="313.20" y="200.80" font-size="7.0" text-anchor="start" fill="#262626" stroke="#262626" stroke-width="0.14" textLength="26.00" lengthAdjust="spacingAndGlyphs">Apixaban</text>
<line x1="321.00" y1="204.80" x2="331.00" y2="204.80" stroke="#b4b4b4" stroke-width="1.7"/>
<polygon points="328.90,201.30 337.50,204.80 328.90,208.30 330.90,204.80" fill="#b8b8b8"/>
<text x="356.50" y="200.80" font-size="7.0" text-anchor="start" fill="#262626" stroke="#262626" stroke-width="0.14" textLength="31.80" lengthAdjust="spacingAndGlyphs">Argatroban</text>
<line x1="359.50" y1="205.10" x2="418.70" y2="205.10" stroke="#b4b4b4" stroke-width="1.7"/>
<polygon points="416.60,201.60 425.20,205.10 416.60,208.60 418.60,205.10" fill="#b8b8b8"/>
<text x="444.70" y="200.80" font-size="7.0" text-anchor="start" fill="#262626" stroke="#262626" stroke-width="0.14" textLength="31.80" lengthAdjust="spacingAndGlyphs">Argatroban</text>
<line x1="446.00" y1="205.00" x2="504.20" y2="205.00" stroke="#b4b4b4" stroke-width="1.7"/>
<polygon points="502.10,201.50 510.70,205.00 502.10,208.50 504.10,205.00" fill="#b8b8b8"/>
<text x="112.90" y="215.60" font-size="7.0" text-anchor="start" fill="#262626" stroke="#262626" stroke-width="0.14" textLength="30.50" lengthAdjust="spacingAndGlyphs">Eculizumab</text>
<line x1="110.50" y1="210.30" x2="110.50" y2="216.60" stroke="#111" stroke-width="0.9"/>
<polygon points="108.00,216.10 113.00,216.10 110.50,220.40" fill="#111"/>
<line x1="144.60" y1="210.40" x2="144.60" y2="216.60" stroke="#111" stroke-width="0.9"/>
<polygon points="142.10,216.10 147.10,216.10 144.60,220.40" fill="#111"/>
<text x="367.80" y="212.40" font-size="7.0" text-anchor="start" fill="#262626" stroke="#262626" stroke-width="0.14" textLength="32.00" lengthAdjust="spacingAndGlyphs">Eculizumab</text>
<line x1="384.30" y1="213.40" x2="384.30" y2="219.20" stroke="#111" stroke-width="0.9"/>
<polygon points="381.80,218.70 386.80,218.70 384.30,223.00" fill="#111"/>
<text x="352.00" y="220.80" font-size="7.0" text-anchor="start" fill="#262626" stroke="#262626" stroke-width="0.14" textLength="26.60" lengthAdjust="spacingAndGlyphs">Alteplase</text>
<line x1="369.40" y1="223.00" x2="369.40" y2="228.70" stroke="#111" stroke-width="0.9"/>
<polygon points="366.90,228.20 371.90,228.20 369.40,232.50" fill="#111"/>
<text x="183.30" y="265.30" font-size="6.8" text-anchor="middle" fill="#262626" stroke="#262626" stroke-width="0.14" textLength="11.10" lengthAdjust="spacingAndGlyphs">IVIG</text>
<line x1="180.40" y1="268.80" x2="180.40" y2="274.70" stroke="#111" stroke-width="0.9"/>
<polygon points="177.90,274.20 182.90,274.20 180.40,278.50" fill="#111"/>
<line x1="184.80" y1="267.00" x2="184.80" y2="272.70" stroke="#111" stroke-width="0.9"/>
<polygon points="182.30,272.20 187.30,272.20 184.80,276.50" fill="#111"/>
<text x="354.00" y="270.90" font-size="6.8" text-anchor="middle" fill="#262626" stroke="#262626" stroke-width="0.14" textLength="11.10" lengthAdjust="spacingAndGlyphs">IVIG</text>
<line x1="350.30" y1="273.90" x2="350.30" y2="279.30" stroke="#111" stroke-width="0.9"/>
<polygon points="347.80,278.80 352.80,278.80 350.30,283.10" fill="#111"/>
<text x="454.00" y="265.20" font-size="6.8" text-anchor="middle" fill="#262626" stroke="#262626" stroke-width="0.14" textLength="11.10" lengthAdjust="spacingAndGlyphs">IVIG</text>
<line x1="450.10" y1="267.60" x2="450.10" y2="274.20" stroke="#111" stroke-width="0.9"/>
<polygon points="447.60,273.70 452.60,273.70 450.10,278.00" fill="#111"/>
<line x1="455.60" y1="267.60" x2="455.60" y2="274.20" stroke="#111" stroke-width="0.9"/>
<polygon points="453.10,273.70 458.10,273.70 455.60,278.00" fill="#111"/>
<line x1="91.00" y1="285.60" x2="96.27" y2="281.70" stroke="#8a8a8a" stroke-width="0.6"/>
<line x1="96.27" y1="281.70" x2="101.54" y2="280.20" stroke="#8a8a8a" stroke-width="0.6"/>
<line x1="101.54" y1="280.20" x2="106.81" y2="279.20" stroke="#8a8a8a" stroke-width="0.6"/>
<line x1="106.81" y1="279.20" x2="112.08" y2="283.60" stroke="#8a8a8a" stroke-width="0.6"/>
<line x1="112.08" y1="283.60" x2="117.35" y2="283.20" stroke="#8a8a8a" stroke-width="0.6"/>
<line x1="117.35" y1="283.20" x2="122.62" y2="278.80" stroke="#8a8a8a" stroke-width="0.6"/>
<line x1="122.62" y1="278.80" x2="127.89" y2="279.60" stroke="#8a8a8a" stroke-width="0.6"/>
<line x1="127.89" y1="279.60" x2="133.16" y2="270.10" stroke="#8a8a8a" stroke-width="0.6"/>
<line x1="133.16" y1="270.10" x2="138.43" y2="270.50" stroke="#8a8a8a" stroke-width="0.6"/>
<line x1="138.43" y1="270.50" x2="143.70" y2="251.50" stroke="#8a8a8a" stroke-width="0.6"/>
<line x1="143.70" y1="251.50" x2="148.97" y2="251.50" stroke="#8a8a8a" stroke-width="0.6"/>
<line x1="148.97" y1="251.50" x2="154.24" y2="240.20" stroke="#8a8a8a" stroke-width="0.6"/>
<line x1="154.24" y1="240.20" x2="159.51" y2="245.80" stroke="#8a8a8a" stroke-width="0.6"/>
<line x1="159.51" y1="245.80" x2="164.78" y2="235.60" stroke="#8a8a8a" stroke-width="0.6"/>
<line x1="96.27" y1="219.90" x2="101.54" y2="215.70" stroke="#8a8a8a" stroke-width="0.6"/>
<line x1="101.54" y1="215.70" x2="106.81" y2="218.60" stroke="#8a8a8a" stroke-width="0.6"/>
<line x1="106.81" y1="218.60" x2="112.08" y2="232.40" stroke="#8a8a8a" stroke-width="0.6"/>
<line x1="112.08" y1="232.40" x2="117.35" y2="242.70" stroke="#8a8a8a" stroke-width="0.6"/>
<line x1="117.35" y1="242.70" x2="122.62" y2="252.60" stroke="#8a8a8a" stroke-width="0.6"/>
<line x1="122.62" y1="252.60" x2="127.89" y2="254.60" stroke="#8a8a8a" stroke-width="0.6"/>
<line x1="127.89" y1="254.60" x2="133.16" y2="261.30" stroke="#8a8a8a" stroke-width="0.6"/>
<line x1="133.16" y1="261.30" x2="138.43" y2="258.10" stroke="#8a8a8a" stroke-width="0.6"/>
<line x1="138.43" y1="258.10" x2="143.70" y2="259.50" stroke="#8a8a8a" stroke-width="0.6"/>
<line x1="143.70" y1="259.50" x2="148.97" y2="263.30" stroke="#8a8a8a" stroke-width="0.6"/>
<line x1="148.97" y1="263.30" x2="154.24" y2="267.00" stroke="#8a8a8a" stroke-width="0.6"/>
<line x1="154.24" y1="267.00" x2="159.51" y2="266.70" stroke="#8a8a8a" stroke-width="0.6"/>
<line x1="159.51" y1="266.70" x2="164.78" y2="267.00" stroke="#8a8a8a" stroke-width="0.6"/>
<line x1="91.00" y1="222.80" x2="96.27" y2="222.80" stroke="#8a8a8a" stroke-width="0.6"/>
<line x1="96.27" y1="222.80" x2="101.54" y2="222.80" stroke="#8a8a8a" stroke-width="0.6"/>
<line x1="101.54" y1="222.80" x2="106.81" y2="268.00" stroke="#8a8a8a" stroke-width="0.6"/>
<line x1="106.81" y1="268.00" x2="112.08" y2="269.90" stroke="#8a8a8a" stroke-width="0.6"/>
<line x1="112.08" y1="269.90" x2="117.35" y2="277.50" stroke="#8a8a8a" stroke-width="0.6"/>
<line x1="117.35" y1="277.50" x2="122.62" y2="276.40" stroke="#8a8a8a" stroke-width="0.6"/>
<line x1="122.62" y1="276.40" x2="127.89" y2="271.80" stroke="#8a8a8a" stroke-width="0.6"/>
<line x1="127.89" y1="271.80" x2="133.16" y2="275.00" stroke="#8a8a8a" stroke-width="0.6"/>
<line x1="133.16" y1="275.00" x2="138.43" y2="269.50" stroke="#8a8a8a" stroke-width="0.6"/>
<line x1="138.43" y1="269.50" x2="143.70" y2="275.00" stroke="#8a8a8a" stroke-width="0.6"/>
<line x1="143.70" y1="275.00" x2="148.97" y2="273.70" stroke="#8a8a8a" stroke-width="0.6"/>
<line x1="148.97" y1="273.70" x2="154.24" y2="278.00" stroke="#8a8a8a" stroke-width="0.6"/>
<line x1="154.24" y1="278.00" x2="159.51" y2="273.70" stroke="#8a8a8a" stroke-width="0.6"/>
<line x1="159.51" y1="273.70" x2="164.78" y2="277.50" stroke="#8a8a8a" stroke-width="0.6"/>
<circle cx="96.27" cy="219.90" r="2.4" fill="#8b83cf" stroke="#151515" stroke-width="0.7"/>
<circle cx="101.54" cy="215.70" r="2.4" fill="#8b83cf" stroke="#151515" stroke-width="0.7"/>
<circle cx="106.81" cy="218.60" r="2.4" fill="#8b83cf" stroke="#151515" stroke-width="0.7"/>
<circle cx="112.08" cy="232.40" r="2.4" fill="#8b83cf" stroke="#151515" stroke-width="0.7"/>
<circle cx="117.35" cy="242.70" r="2.4" fill="#8b83cf" stroke="#151515" stroke-width="0.7"/>
<circle cx="122.62" cy="252.60" r="2.4" fill="#8b83cf" stroke="#151515" stroke-width="0.7"/>
<circle cx="127.89" cy="254.60" r="2.4" fill="#8b83cf" stroke="#151515" stroke-width="0.7"/>
<circle cx="133.16" cy="261.30" r="2.4" fill="#8b83cf" stroke="#151515" stroke-width="0.7"/>
<circle cx="138.43" cy="258.10" r="2.4" fill="#8b83cf" stroke="#151515" stroke-width="0.7"/>
<circle cx="143.70" cy="259.50" r="2.4" fill="#8b83cf" stroke="#151515" stroke-width="0.7"/>
<circle cx="148.97" cy="263.30" r="2.4" fill="#8b83cf" stroke="#151515" stroke-width="0.7"/>
<circle cx="154.24" cy="267.00" r="2.4" fill="#8b83cf" stroke="#151515" stroke-width="0.7"/>
<circle cx="159.51" cy="266.70" r="2.4" fill="#8b83cf" stroke="#151515" stroke-width="0.7"/>
<circle cx="164.78" cy="267.00" r="2.4" fill="#8b83cf" stroke="#151515" stroke-width="0.7"/>
<circle cx="91.00" cy="285.60" r="2.4" fill="#0b6b4c" stroke="#151515" stroke-width="0.7"/>
<circle cx="96.27" cy="281.70" r="2.4" fill="#0b6b4c" stroke="#151515" stroke-width="0.7"/>
<circle cx="101.54" cy="280.20" r="2.4" fill="#0b6b4c" stroke="#151515" stroke-width="0.7"/>
<circle cx="106.81" cy="279.20" r="2.4" fill="#0b6b4c" stroke="#151515" stroke-width="0.7"/>
<circle cx="112.08" cy="283.60" r="2.4" fill="#0b6b4c" stroke="#151515" stroke-width="0.7"/>
<circle cx="117.35" cy="283.20" r="2.4" fill="#0b6b4c" stroke="#151515" stroke-width="0.7"/>
<circle cx="122.62" cy="278.80" r="2.4" fill="#0b6b4c" stroke="#151515" stroke-width="0.7"/>
<circle cx="127.89" cy="279.60" r="2.4" fill="#0b6b4c" stroke="#151515" stroke-width="0.7"/>
<circle cx="133.16" cy="270.10" r="2.4" fill="#0b6b4c" stroke="#151515" stroke-width="0.7"/>
<circle cx="138.43" cy="270.50" r="2.4" fill="#0b6b4c" stroke="#151515" stroke-width="0.7"/>
<circle cx="143.70" cy="251.50" r="2.4" fill="#0b6b4c" stroke="#151515" stroke-width="0.7"/>
<circle cx="148.97" cy="251.50" r="2.4" fill="#0b6b4c" stroke="#151515" stroke-width="0.7"/>
<circle cx="154.24" cy="240.20" r="2.4" fill="#0b6b4c" stroke="#151515" stroke-width="0.7"/>
<circle cx="159.51" cy="245.80" r="2.4" fill="#0b6b4c" stroke="#151515" stroke-width="0.7"/>
<circle cx="164.78" cy="235.60" r="2.4" fill="#0b6b4c" stroke="#151515" stroke-width="0.7"/>
<circle cx="91.00" cy="222.80" r="2.4" fill="#27aee6" stroke="#151515" stroke-width="0.7"/>
<circle cx="96.27" cy="222.80" r="2.4" fill="#27aee6" stroke="#151515" stroke-width="0.7"/>
<circle cx="101.54" cy="222.80" r="2.4" fill="#27aee6" stroke="#151515" stroke-width="0.7"/>
<circle cx="106.81" cy="268.00" r="2.4" fill="#27aee6" stroke="#151515" stroke-width="0.7"/>
<circle cx="112.08" cy="269.90" r="2.4" fill="#27aee6" stroke="#151515" stroke-width="0.7"/>
<circle cx="117.35" cy="277.50" r="2.4" fill="#27aee6" stroke="#151515" stroke-width="0.7"/>
<circle cx="122.62" cy="276.40" r="2.4" fill="#27aee6" stroke="#151515" stroke-width="0.7"/>
<circle cx="127.89" cy="271.80" r="2.4" fill="#27aee6" stroke="#151515" stroke-width="0.7"/>
<circle cx="133.16" cy="275.00" r="2.4" fill="#27aee6" stroke="#151515" stroke-width="0.7"/>
<circle cx="138.43" cy="269.50" r="2.4" fill="#27aee6" stroke="#151515" stroke-width="0.7"/>
<circle cx="143.70" cy="275.00" r="2.4" fill="#27aee6" stroke="#151515" stroke-width="0.7"/>
<circle cx="148.97" cy="273.70" r="2.4" fill="#27aee6" stroke="#151515" stroke-width="0.7"/>
<circle cx="154.24" cy="278.00" r="2.4" fill="#27aee6" stroke="#151515" stroke-width="0.7"/>
<circle cx="159.51" cy="273.70" r="2.4" fill="#27aee6" stroke="#151515" stroke-width="0.7"/>
<circle cx="164.78" cy="277.50" r="2.4" fill="#27aee6" stroke="#151515" stroke-width="0.7"/>
<line x1="178.00" y1="283.20" x2="183.27" y2="283.20" stroke="#3a3a3a" stroke-width="0.75"/>
<line x1="183.27" y1="283.20" x2="188.54" y2="278.80" stroke="#3a3a3a" stroke-width="0.75"/>
<line x1="188.54" y1="278.80" x2="193.81" y2="276.00" stroke="#3a3a3a" stroke-width="0.75"/>
<line x1="193.81" y1="276.00" x2="199.08" y2="269.40" stroke="#3a3a3a" stroke-width="0.75"/>
<line x1="199.08" y1="269.40" x2="204.35" y2="268.00" stroke="#3a3a3a" stroke-width="0.75"/>
<line x1="204.35" y1="268.00" x2="209.62" y2="251.40" stroke="#3a3a3a" stroke-width="0.75"/>
<line x1="209.62" y1="251.40" x2="220.16" y2="250.60" stroke="#3a3a3a" stroke-width="0.75"/>
<line x1="220.16" y1="250.60" x2="225.43" y2="248.20" stroke="#3a3a3a" stroke-width="0.75"/>
<line x1="225.43" y1="248.20" x2="230.70" y2="252.60" stroke="#3a3a3a" stroke-width="0.75"/>
<line x1="230.70" y1="252.60" x2="241.24" y2="247.10" stroke="#3a3a3a" stroke-width="0.75"/>
<line x1="241.24" y1="247.10" x2="251.78" y2="246.60" stroke="#3a3a3a" stroke-width="0.75"/>
<line x1="178.00" y1="222.40" x2="183.27" y2="222.40" stroke="#3a3a3a" stroke-width="0.75"/>
<line x1="183.27" y1="222.40" x2="199.08" y2="258.40" stroke="#3a3a3a" stroke-width="0.75"/>
<line x1="199.08" y1="258.40" x2="209.62" y2="268.40" stroke="#3a3a3a" stroke-width="0.75"/>
<line x1="209.62" y1="268.40" x2="220.16" y2="280.20" stroke="#3a3a3a" stroke-width="0.75"/>
<line x1="220.16" y1="280.20" x2="230.70" y2="282.60" stroke="#3a3a3a" stroke-width="0.75"/>
<line x1="230.70" y1="282.60" x2="241.24" y2="281.50" stroke="#3a3a3a" stroke-width="0.75"/>
<line x1="241.24" y1="281.50" x2="251.78" y2="285.90" stroke="#3a3a3a" stroke-width="0.75"/>
<circle cx="178.00" cy="222.40" r="2.4" fill="#27aee6" stroke="#151515" stroke-width="0.7"/>
<circle cx="183.27" cy="222.40" r="2.4" fill="#27aee6" stroke="#151515" stroke-width="0.7"/>
<circle cx="199.08" cy="258.40" r="2.4" fill="#27aee6" stroke="#151515" stroke-width="0.7"/>
<circle cx="209.62" cy="268.40" r="2.4" fill="#27aee6" stroke="#151515" stroke-width="0.7"/>
<circle cx="220.16" cy="280.20" r="2.4" fill="#27aee6" stroke="#151515" stroke-width="0.7"/>
<circle cx="230.70" cy="282.60" r="2.4" fill="#27aee6" stroke="#151515" stroke-width="0.7"/>
<circle cx="241.24" cy="281.50" r="2.4" fill="#27aee6" stroke="#151515" stroke-width="0.7"/>
<circle cx="251.78" cy="285.90" r="2.4" fill="#27aee6" stroke="#151515" stroke-width="0.7"/>
<circle cx="178.00" cy="283.20" r="2.4" fill="#0b6b4c" stroke="#151515" stroke-width="0.7"/>
<circle cx="183.27" cy="283.20" r="2.4" fill="#0b6b4c" stroke="#151515" stroke-width="0.7"/>
<circle cx="188.54" cy="278.80" r="2.4" fill="#0b6b4c" stroke="#151515" stroke-width="0.7"/>
<circle cx="193.81" cy="276.00" r="2.4" fill="#0b6b4c" stroke="#151515" stroke-width="0.7"/>
<circle cx="199.08" cy="269.40" r="2.4" fill="#0b6b4c" stroke="#151515" stroke-width="0.7"/>
<circle cx="204.35" cy="268.00" r="2.4" fill="#0b6b4c" stroke="#151515" stroke-width="0.7"/>
<circle cx="209.62" cy="251.40" r="2.4" fill="#0b6b4c" stroke="#151515" stroke-width="0.7"/>
<circle cx="220.16" cy="250.60" r="2.4" fill="#0b6b4c" stroke="#151515" stroke-width="0.7"/>
<circle cx="225.43" cy="248.20" r="2.4" fill="#0b6b4c" stroke="#151515" stroke-width="0.7"/>
<circle cx="230.70" cy="252.60" r="2.4" fill="#0b6b4c" stroke="#151515" stroke-width="0.7"/>
<circle cx="241.24" cy="247.10" r="2.4" fill="#0b6b4c" stroke="#151515" stroke-width="0.7"/>
<circle cx="251.78" cy="246.60" r="2.4" fill="#0b6b4c" stroke="#151515" stroke-width="0.7"/>
<line x1="263.50" y1="269.80" x2="268.77" y2="268.30" stroke="#3a3a3a" stroke-width="0.75"/>
<line x1="268.77" y1="268.30" x2="274.04" y2="268.30" stroke="#3a3a3a" stroke-width="0.75"/>
<line x1="274.04" y1="268.30" x2="279.31" y2="265.40" stroke="#3a3a3a" stroke-width="0.75"/>
<line x1="279.31" y1="265.40" x2="284.58" y2="264.70" stroke="#3a3a3a" stroke-width="0.75"/>
<line x1="284.58" y1="264.70" x2="300.39" y2="249.50" stroke="#3a3a3a" stroke-width="0.75"/>
<line x1="300.39" y1="249.50" x2="305.66" y2="249.90" stroke="#3a3a3a" stroke-width="0.75"/>
<line x1="305.66" y1="249.90" x2="316.20" y2="250.60" stroke="#3a3a3a" stroke-width="0.75"/>
<line x1="316.20" y1="250.60" x2="321.47" y2="248.80" stroke="#3a3a3a" stroke-width="0.75"/>
<line x1="321.47" y1="248.80" x2="326.74" y2="248.40" stroke="#3a3a3a" stroke-width="0.75"/>
<line x1="326.74" y1="248.40" x2="332.01" y2="251.00" stroke="#3a3a3a" stroke-width="0.75"/>
<line x1="263.50" y1="247.70" x2="274.04" y2="289.00" stroke="#3a3a3a" stroke-width="0.75"/>
<line x1="274.04" y1="289.00" x2="279.31" y2="289.00" stroke="#3a3a3a" stroke-width="0.75"/>
<line x1="279.31" y1="289.00" x2="305.66" y2="290.00" stroke="#3a3a3a" stroke-width="0.75"/>
<line x1="305.66" y1="290.00" x2="321.47" y2="290.00" stroke="#3a3a3a" stroke-width="0.75"/>
<line x1="321.47" y1="290.00" x2="326.74" y2="290.00" stroke="#3a3a3a" stroke-width="0.75"/>
<line x1="326.74" y1="290.00" x2="332.01" y2="290.00" stroke="#3a3a3a" stroke-width="0.75"/>
<circle cx="263.50" cy="247.70" r="2.4" fill="#27aee6" stroke="#151515" stroke-width="0.7"/>
<circle cx="274.04" cy="289.00" r="2.4" fill="#27aee6" stroke="#151515" stroke-width="0.7"/>
<circle cx="279.31" cy="289.00" r="2.4" fill="#27aee6" stroke="#151515" stroke-width="0.7"/>
<circle cx="305.66" cy="290.00" r="2.4" fill="#27aee6" stroke="#151515" stroke-width="0.7"/>
<circle cx="321.47" cy="290.00" r="2.4" fill="#27aee6" stroke="#151515" stroke-width="0.7"/>
<circle cx="326.74" cy="290.00" r="2.4" fill="#27aee6" stroke="#151515" stroke-width="0.7"/>
<circle cx="332.01" cy="290.00" r="2.4" fill="#27aee6" stroke="#151515" stroke-width="0.7"/>
<circle cx="263.50" cy="269.80" r="2.4" fill="#0b6b4c" stroke="#151515" stroke-width="0.7"/>
<circle cx="268.77" cy="268.30" r="2.4" fill="#0b6b4c" stroke="#151515" stroke-width="0.7"/>
<circle cx="274.04" cy="268.30" r="2.4" fill="#0b6b4c" stroke="#151515" stroke-width="0.7"/>
<circle cx="279.31" cy="265.40" r="2.4" fill="#0b6b4c" stroke="#151515" stroke-width="0.7"/>
<circle cx="284.58" cy="264.70" r="2.4" fill="#0b6b4c" stroke="#151515" stroke-width="0.7"/>
<circle cx="300.39" cy="249.50" r="2.4" fill="#0b6b4c" stroke="#151515" stroke-width="0.7"/>
<circle cx="305.66" cy="249.90" r="2.4" fill="#0b6b4c" stroke="#151515" stroke-width="0.7"/>
<circle cx="316.20" cy="250.60" r="2.4" fill="#0b6b4c" stroke="#151515" stroke-width="0.7"/>
<circle cx="321.47" cy="248.80" r="2.4" fill="#0b6b4c" stroke="#151515" stroke-width="0.7"/>
<circle cx="326.74" cy="248.40" r="2.4" fill="#0b6b4c" stroke="#151515" stroke-width="0.7"/>
<circle cx="332.01" cy="251.00" r="2.4" fill="#0b6b4c" stroke="#151515" stroke-width="0.7"/>
<line x1="348.30" y1="288.40" x2="367.92" y2="269.00" stroke="#b0b0b0" stroke-width="0.75"/>
<line x1="367.92" y1="269.00" x2="374.11" y2="269.00" stroke="#3a3a3a" stroke-width="0.75"/>
<line x1="374.11" y1="269.00" x2="380.30" y2="269.10" stroke="#3a3a3a" stroke-width="0.75"/>
<line x1="380.30" y1="269.10" x2="386.49" y2="265.20" stroke="#3a3a3a" stroke-width="0.75"/>
<line x1="386.49" y1="265.20" x2="392.68" y2="257.40" stroke="#3a3a3a" stroke-width="0.75"/>
<line x1="392.68" y1="257.40" x2="398.87" y2="252.10" stroke="#3a3a3a" stroke-width="0.75"/>
<line x1="398.87" y1="252.10" x2="405.06" y2="251.60" stroke="#3a3a3a" stroke-width="0.75"/>
<line x1="405.06" y1="251.60" x2="411.25" y2="254.80" stroke="#3a3a3a" stroke-width="0.75"/>
<line x1="411.25" y1="254.80" x2="417.44" y2="257.90" stroke="#3a3a3a" stroke-width="0.75"/>
<line x1="417.44" y1="257.90" x2="423.63" y2="255.90" stroke="#3a3a3a" stroke-width="0.75"/>
<line x1="348.30" y1="222.10" x2="367.92" y2="259.80" stroke="#b0b0b0" stroke-width="0.75"/>
<line x1="367.92" y1="259.80" x2="374.11" y2="235.50" stroke="#3a3a3a" stroke-width="0.75"/>
<line x1="374.11" y1="235.50" x2="380.30" y2="222.10" stroke="#3a3a3a" stroke-width="0.75"/>
<line x1="380.30" y1="222.10" x2="386.49" y2="267.60" stroke="#3a3a3a" stroke-width="0.75"/>
<line x1="386.49" y1="267.60" x2="392.68" y2="277.90" stroke="#3a3a3a" stroke-width="0.75"/>
<line x1="392.68" y1="277.90" x2="398.87" y2="280.60" stroke="#3a3a3a" stroke-width="0.75"/>
<line x1="398.87" y1="280.60" x2="405.06" y2="279.30" stroke="#3a3a3a" stroke-width="0.75"/>
<line x1="405.06" y1="279.30" x2="411.25" y2="279.30" stroke="#3a3a3a" stroke-width="0.75"/>
<line x1="411.25" y1="279.30" x2="417.44" y2="279.30" stroke="#3a3a3a" stroke-width="0.75"/>
<line x1="417.44" y1="279.30" x2="423.63" y2="278.60" stroke="#3a3a3a" stroke-width="0.75"/>
<circle cx="348.30" cy="222.10" r="2.4" fill="#27aee6" stroke="#151515" stroke-width="0.7"/>
<circle cx="367.92" cy="259.80" r="2.4" fill="#27aee6" stroke="#151515" stroke-width="0.7"/>
<circle cx="374.11" cy="235.50" r="2.4" fill="#27aee6" stroke="#151515" stroke-width="0.7"/>
<circle cx="380.30" cy="222.10" r="2.4" fill="#27aee6" stroke="#151515" stroke-width="0.7"/>
<circle cx="386.49" cy="267.60" r="2.4" fill="#27aee6" stroke="#151515" stroke-width="0.7"/>
<circle cx="392.68" cy="277.90" r="2.4" fill="#27aee6" stroke="#151515" stroke-width="0.7"/>
<circle cx="398.87" cy="280.60" r="2.4" fill="#27aee6" stroke="#151515" stroke-width="0.7"/>
<circle cx="405.06" cy="279.30" r="2.4" fill="#27aee6" stroke="#151515" stroke-width="0.7"/>
<circle cx="411.25" cy="279.30" r="2.4" fill="#27aee6" stroke="#151515" stroke-width="0.7"/>
<circle cx="417.44" cy="279.30" r="2.4" fill="#27aee6" stroke="#151515" stroke-width="0.7"/>
<circle cx="423.63" cy="278.60" r="2.4" fill="#27aee6" stroke="#151515" stroke-width="0.7"/>
<circle cx="348.30" cy="288.40" r="2.4" fill="#0b6b4c" stroke="#151515" stroke-width="0.7"/>
<circle cx="367.92" cy="269.00" r="2.4" fill="#0b6b4c" stroke="#151515" stroke-width="0.7"/>
<circle cx="374.11" cy="269.00" r="2.4" fill="#0b6b4c" stroke="#151515" stroke-width="0.7"/>
<circle cx="380.30" cy="269.10" r="2.4" fill="#0b6b4c" stroke="#151515" stroke-width="0.7"/>
<circle cx="386.49" cy="265.20" r="2.4" fill="#0b6b4c" stroke="#151515" stroke-width="0.7"/>
<circle cx="392.68" cy="257.40" r="2.4" fill="#0b6b4c" stroke="#151515" stroke-width="0.7"/>
<circle cx="398.87" cy="252.10" r="2.4" fill="#0b6b4c" stroke="#151515" stroke-width="0.7"/>
<circle cx="405.06" cy="251.60" r="2.4" fill="#0b6b4c" stroke="#151515" stroke-width="0.7"/>
<circle cx="411.25" cy="254.80" r="2.4" fill="#0b6b4c" stroke="#151515" stroke-width="0.7"/>
<circle cx="417.44" cy="257.90" r="2.4" fill="#0b6b4c" stroke="#151515" stroke-width="0.7"/>
<circle cx="423.63" cy="255.90" r="2.4" fill="#0b6b4c" stroke="#151515" stroke-width="0.7"/>
<line x1="436.20" y1="279.10" x2="441.50" y2="285.90" stroke="#3a3a3a" stroke-width="0.75"/>
<line x1="441.50" y1="285.90" x2="446.80" y2="286.40" stroke="#3a3a3a" stroke-width="0.75"/>
<line x1="446.80" y1="286.40" x2="452.10" y2="286.80" stroke="#3a3a3a" stroke-width="0.75"/>
<line x1="452.10" y1="286.80" x2="457.40" y2="285.30" stroke="#3a3a3a" stroke-width="0.75"/>
<line x1="457.40" y1="285.30" x2="462.70" y2="278.60" stroke="#3a3a3a" stroke-width="0.75"/>
<line x1="462.70" y1="278.60" x2="468.00" y2="267.20" stroke="#3a3a3a" stroke-width="0.75"/>
<line x1="468.00" y1="267.20" x2="473.30" y2="257.20" stroke="#3a3a3a" stroke-width="0.75"/>
<line x1="473.30" y1="257.20" x2="478.60" y2="244.00" stroke="#3a3a3a" stroke-width="0.75"/>
<line x1="478.60" y1="244.00" x2="483.90" y2="233.90" stroke="#3a3a3a" stroke-width="0.75"/>
<line x1="483.90" y1="233.90" x2="489.20" y2="235.10" stroke="#3a3a3a" stroke-width="0.75"/>
<line x1="489.20" y1="235.10" x2="494.50" y2="233.20" stroke="#3a3a3a" stroke-width="0.75"/>
<line x1="494.50" y1="233.20" x2="499.80" y2="236.40" stroke="#3a3a3a" stroke-width="0.75"/>
<line x1="499.80" y1="236.40" x2="505.10" y2="230.30" stroke="#3a3a3a" stroke-width="0.75"/>
<line x1="505.10" y1="230.30" x2="510.40" y2="229.80" stroke="#3a3a3a" stroke-width="0.75"/>
<line x1="446.80" y1="222.20" x2="452.10" y2="222.20" stroke="#3a3a3a" stroke-width="0.75"/>
<line x1="452.10" y1="222.20" x2="473.30" y2="273.60" stroke="#3a3a3a" stroke-width="0.75"/>
<line x1="473.30" y1="273.60" x2="483.90" y2="279.30" stroke="#3a3a3a" stroke-width="0.75"/>
<line x1="483.90" y1="279.30" x2="510.40" y2="258.30" stroke="#3a3a3a" stroke-width="0.75"/>
<circle cx="446.80" cy="222.20" r="2.4" fill="#27aee6" stroke="#151515" stroke-width="0.7"/>
<circle cx="452.10" cy="222.20" r="2.4" fill="#27aee6" stroke="#151515" stroke-width="0.7"/>
<circle cx="473.30" cy="273.60" r="2.4" fill="#27aee6" stroke="#151515" stroke-width="0.7"/>
<circle cx="483.90" cy="279.30" r="2.4" fill="#27aee6" stroke="#151515" stroke-width="0.7"/>
<circle cx="510.40" cy="258.30" r="2.4" fill="#27aee6" stroke="#151515" stroke-width="0.7"/>
<circle cx="436.20" cy="279.10" r="2.4" fill="#0b6b4c" stroke="#151515" stroke-width="0.7"/>
<circle cx="441.50" cy="285.90" r="2.4" fill="#0b6b4c" stroke="#151515" stroke-width="0.7"/>
<circle cx="446.80" cy="286.40" r="2.4" fill="#0b6b4c" stroke="#151515" stroke-width="0.7"/>
<circle cx="452.10" cy="286.80" r="2.4" fill="#0b6b4c" stroke="#151515" stroke-width="0.7"/>
<circle cx="457.40" cy="285.30" r="2.4" fill="#0b6b4c" stroke="#151515" stroke-width="0.7"/>
<circle cx="462.70" cy="278.60" r="2.4" fill="#0b6b4c" stroke="#151515" stroke-width="0.7"/>
<circle cx="468.00" cy="267.20" r="2.4" fill="#0b6b4c" stroke="#151515" stroke-width="0.7"/>
<circle cx="473.30" cy="257.20" r="2.4" fill="#0b6b4c" stroke="#151515" stroke-width="0.7"/>
<circle cx="478.60" cy="244.00" r="2.4" fill="#0b6b4c" stroke="#151515" stroke-width="0.7"/>
<circle cx="483.90" cy="233.90" r="2.4" fill="#0b6b4c" stroke="#151515" stroke-width="0.7"/>
<circle cx="489.20" cy="235.10" r="2.4" fill="#0b6b4c" stroke="#151515" stroke-width="0.7"/>
<circle cx="494.50" cy="233.20" r="2.4" fill="#0b6b4c" stroke="#151515" stroke-width="0.7"/>
<circle cx="499.80" cy="236.40" r="2.4" fill="#0b6b4c" stroke="#151515" stroke-width="0.7"/>
<circle cx="505.10" cy="230.30" r="2.4" fill="#0b6b4c" stroke="#151515" stroke-width="0.7"/>
<circle cx="510.40" cy="229.80" r="2.4" fill="#0b6b4c" stroke="#151515" stroke-width="0.7"/>
</svg></body></html>
